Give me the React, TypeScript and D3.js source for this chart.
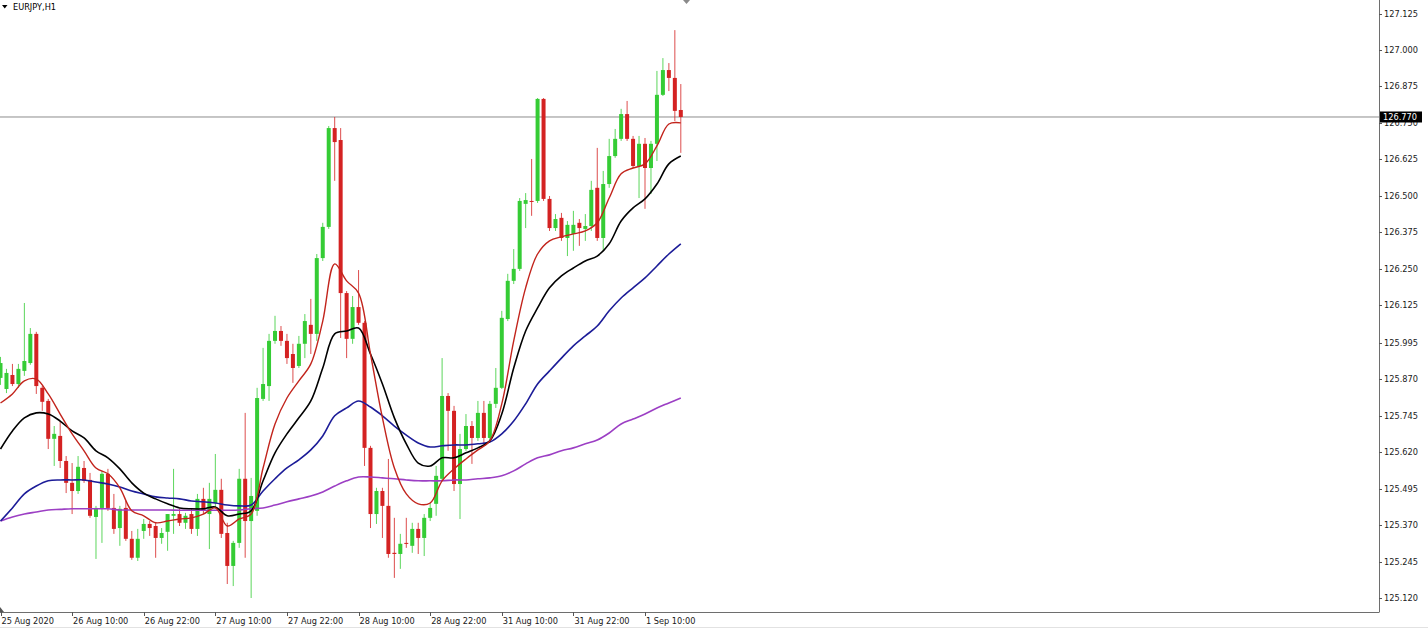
import React from 'react';
import * as d3 from 'd3';

// EURJPY H1 — hourly bars from 25 Aug 22:00 to 1 Sep 16:00
const opens = [125.875,125.837,125.885,125.854,125.899,125.926,126.026,125.841,125.796,125.666,125.676,125.590,125.515,125.487,125.566,125.525,125.398,125.429,125.546,125.429,125.360,125.429,125.323,125.258,125.350,125.374,125.367,125.326,125.347,125.402,125.408,125.378,125.408,125.357,125.460,125.408,125.446,125.491,125.343,125.230,125.309,125.529,125.384,125.419,125.803,125.847,126.002,126.036,126.002,125.957,125.916,125.992,126.057,126.026,126.286,126.393,126.732,126.691,126.166,126.009,126.118,126.064,125.635,125.408,125.487,125.436,125.275,125.271,125.309,125.299,125.357,125.326,125.395,125.443,125.529,125.813,125.762,125.511,125.631,125.710,125.669,125.755,125.669,125.786,125.841,126.077,126.208,126.249,126.472,126.482,126.482,126.832,126.489,126.389,126.424,126.355,126.369,126.407,126.386,126.396,126.527,126.355,126.540,126.636,126.695,126.780,126.695,126.602,126.678,126.595,126.678,126.846,126.931,126.904,126.794];
const highs = [125.947,125.906,125.923,125.923,126.132,126.046,126.033,125.847,125.803,125.710,125.727,125.607,125.583,125.607,125.590,125.549,125.436,125.556,125.563,125.477,125.436,125.453,125.350,125.357,125.391,125.384,125.378,125.360,125.408,125.563,125.426,125.412,125.426,125.477,125.498,125.515,125.614,125.529,125.378,125.316,125.563,125.755,125.532,125.841,125.978,126.026,126.088,126.053,126.026,125.992,126.019,126.094,126.146,126.300,126.407,126.739,126.770,126.732,126.173,126.156,126.245,126.070,125.642,125.498,125.498,125.597,125.395,125.340,125.395,125.378,125.378,125.408,125.446,125.573,125.943,125.823,125.779,125.683,125.751,125.727,125.796,125.796,125.796,125.909,126.105,126.232,126.317,126.492,126.509,126.626,126.835,126.835,126.499,126.437,126.441,126.413,126.448,126.420,126.437,126.551,126.664,126.585,126.695,126.729,126.798,126.825,126.705,126.705,126.698,126.688,126.928,126.972,126.955,127.068,126.883];
const lows = [125.851,125.823,125.847,125.841,125.882,125.920,125.820,125.762,125.631,125.573,125.566,125.480,125.408,125.477,125.515,125.395,125.254,125.309,125.419,125.340,125.299,125.316,125.251,125.247,125.323,125.333,125.258,125.306,125.282,125.340,125.367,125.357,125.340,125.333,125.408,125.288,125.426,125.326,125.168,125.161,125.292,125.258,125.120,125.402,125.796,125.796,125.992,125.985,125.923,125.858,125.909,125.943,125.957,126.002,126.276,126.386,126.551,126.012,125.943,125.992,126.057,125.573,125.360,125.374,125.326,125.258,125.189,125.220,125.292,125.275,125.271,125.264,125.384,125.402,125.522,125.625,125.487,125.391,125.625,125.580,125.659,125.652,125.659,125.772,125.837,126.070,126.197,126.242,126.389,126.431,126.475,126.482,126.379,126.379,126.345,126.293,126.311,126.328,126.345,126.379,126.345,126.311,126.527,126.630,126.688,126.688,126.595,126.492,126.455,126.506,126.619,126.842,126.859,126.756,126.647];
const closes = [125.926,125.892,125.854,125.906,125.933,126.026,125.847,125.793,125.666,125.683,125.590,125.515,125.487,125.570,125.522,125.402,125.429,125.546,125.429,125.357,125.426,125.323,125.258,125.323,125.374,125.360,125.326,125.343,125.408,125.408,125.378,125.402,125.357,125.460,125.419,125.460,125.491,125.340,125.230,125.309,125.529,125.384,125.470,125.806,125.854,126.002,126.036,126.002,125.943,125.909,125.992,126.070,126.026,126.286,126.393,126.732,126.684,126.166,126.009,126.118,126.064,125.635,125.408,125.487,125.436,125.271,125.271,125.306,125.306,125.357,125.326,125.395,125.429,125.539,125.813,125.762,125.511,125.631,125.710,125.669,125.755,125.669,125.786,125.841,126.081,126.208,126.249,126.482,126.485,126.479,126.832,126.489,126.389,126.420,126.355,126.400,126.400,126.389,126.396,126.520,126.355,126.540,126.636,126.695,126.780,126.695,126.602,126.678,126.595,126.678,126.846,126.931,126.904,126.791,126.770];

// Moving averages, one value every 2 bars (bar 0, 2, 4 … 114)
const MA_STEP = 2;
const maRed = [125.789,125.820,125.865,125.871,125.820,125.751,125.683,125.625,125.566,125.546,125.498,125.419,125.402,125.378,125.384,125.391,125.395,125.408,125.429,125.367,125.391,125.408,125.566,125.717,125.806,125.865,125.923,126.070,126.266,126.208,126.166,125.957,125.738,125.566,125.477,125.443,125.446,125.522,125.563,125.597,125.628,125.659,125.786,126.002,126.184,126.300,126.345,126.359,126.369,126.379,126.407,126.492,126.575,126.595,126.609,126.671,126.746,126.750];
const maBlack = [125.631,125.693,125.738,125.755,125.751,125.727,125.693,125.669,125.625,125.601,125.563,125.515,125.480,125.460,125.443,125.429,125.426,125.426,125.432,125.402,125.408,125.419,125.522,125.618,125.683,125.738,125.796,125.909,126.026,126.036,126.046,125.957,125.854,125.738,125.649,125.583,125.573,125.601,125.601,125.618,125.635,125.659,125.751,125.909,126.036,126.115,126.184,126.225,126.252,126.276,126.293,126.335,126.413,126.458,126.489,126.540,126.609,126.636];
const maBlue = [125.384,125.429,125.477,125.504,125.522,125.525,125.525,125.525,125.518,125.511,125.501,125.487,125.477,125.467,125.463,125.460,125.453,125.450,125.446,125.439,125.436,125.439,125.487,125.529,125.566,125.594,125.628,125.676,125.745,125.772,125.796,125.775,125.745,125.710,125.679,125.652,125.638,125.642,125.645,125.645,125.649,125.655,125.683,125.727,125.786,125.854,125.899,125.943,125.985,126.019,126.053,126.105,126.149,126.184,126.218,126.259,126.300,126.335];
const maPurple = [125.384,125.398,125.408,125.415,125.422,125.424,125.426,125.426,125.426,125.426,125.422,125.422,125.422,125.422,125.422,125.421,125.421,125.421,125.421,125.421,125.422,125.426,125.429,125.439,125.450,125.460,125.470,125.484,125.504,125.522,125.535,125.535,125.532,125.529,125.525,125.522,125.522,125.522,125.525,125.525,125.529,125.532,125.539,125.556,125.580,125.601,125.611,125.625,125.635,125.649,125.662,125.686,125.717,125.734,125.751,125.772,125.789,125.806];

const priceTicks = [127.125,127.000,126.875,126.750,126.625,126.500,126.375,126.250,126.125,125.995,125.870,125.745,125.620,125.495,125.370,125.245,125.120];
const timeTickIndex = [0,12,24,36,48,60,72,84,96,108];
const timeTickLabels = ['25 Aug 2020','26 Aug 10:00','26 Aug 22:00','27 Aug 10:00','27 Aug 22:00','28 Aug 10:00','28 Aug 22:00','31 Aug 10:00','31 Aug 22:00','1 Sep 10:00'];
const symbolTitle = 'EURJPY,H1';
const lastPrice = 126.770;

const W = 1428;
const H = 632;
const PLOT_R = 1379;
const PLOT_B = 612;
const FONT = '"DejaVu Sans", Tahoma, sans-serif';
const UP = '#35cc35';
const DOWN = '#d42222';

export default function App() {
  const x = d3.scaleLinear().domain([0, 108]).range([0.5, 645]);
  const y = d3.scaleLinear().domain([125.12, 127.125]).range([598, 13.5]);

  const maLine = d3
    .line<number>()
    .x((_, k) => x(k * MA_STEP))
    .y((d) => y(d))
    .curve(d3.curveCatmullRom.alpha(0.5));

  const bars = closes.map((c, i) => ({ o: opens[i], h: highs[i], l: lows[i], c, i }));
  const bodyW = 4;
  const lp = y(lastPrice);

  return (
    <svg
      width={W}
      height={H}
      style={{ position: 'absolute', left: 0, top: 0, background: '#fff' }}
      xmlns="http://www.w3.org/2000/svg"
    >
      <rect x={0} y={0} width={W} height={H} fill="#ffffff" />

      {/* current price line */}
      <line x1={0} x2={PLOT_R} y1={lp} y2={lp} stroke="#8c8c8c" strokeWidth={1} />

      {/* candles */}
      <g>
        {bars.map((b) => {
          const cx = x(b.i);
          const up = b.c >= b.o;
          const col = up ? UP : DOWN;
          const top = y(Math.max(b.o, b.c));
          const bot = y(Math.min(b.o, b.c));
          return (
            <g key={b.i}>
              <rect x={cx - 0.5} y={y(b.h)} width={1} height={Math.max(1, y(b.l) - y(b.h))} fill={col} opacity={0.8} />
              <rect x={cx - bodyW / 2} y={top} width={bodyW} height={Math.max(1, bot - top)} fill={col} />
            </g>
          );
        })}
      </g>

      {/* moving averages */}
      <path d={maLine(maPurple) || ''} fill="none" stroke="#9c3fc4" strokeWidth={1.6} />
      <path d={maLine(maBlue) || ''} fill="none" stroke="#1c1c98" strokeWidth={1.6} />
      <path d={maLine(maBlack) || ''} fill="none" stroke="#000000" strokeWidth={1.6} />
      <path d={maLine(maRed) || ''} fill="none" stroke="#c2241c" strokeWidth={1.4} />

      {/* frame */}
      <line x1={PLOT_R + 0.5} x2={PLOT_R + 0.5} y1={0} y2={PLOT_B} stroke="#6e6e6e" strokeWidth={1} />
      <line x1={0} x2={PLOT_R + 0.5} y1={PLOT_B + 0.5} y2={PLOT_B + 0.5} stroke="#6e6e6e" strokeWidth={1} />
      <line x1={0} x2={W} y1={627.5} y2={627.5} stroke="#e2e2e2" strokeWidth={1} />

      {/* price axis */}
      <g fontFamily={FONT} fontSize={8.2} fill="#1a1a1a">
        {priceTicks.map((p) => (
          <g key={p}>
            <line x1={PLOT_R} x2={PLOT_R + 3} y1={Math.round(y(p)) + 0.5} y2={Math.round(y(p)) + 0.5} stroke="#555" />
            <text x={PLOT_R + 5} y={y(p) + 3}>{p.toFixed(3)}</text>
          </g>
        ))}
      </g>

      {/* last price label */}
      <rect x={PLOT_R + 1} y={lp - 5.5} width={42} height={11} fill="#000" />
      <text x={PLOT_R + 4} y={lp + 3.5} fontFamily={FONT} fontSize={8.2} fill="#fff">
        {lastPrice.toFixed(3)}
      </text>

      {/* time axis */}
      <g fontFamily={FONT} fontSize={8.2} fill="#1a1a1a">
        {timeTickIndex.map((ti, k) => {
          const tx = Math.round(x(ti)) + 0.5;
          return (
            <g key={ti}>
              <line x1={tx} x2={tx} y1={PLOT_B} y2={PLOT_B + 4} stroke="#555" />
              <text x={x(ti) + 1} y={624}>{timeTickLabels[k]}</text>
            </g>
          );
        })}
      </g>
      <polygon points={`0,${PLOT_B} 4,${PLOT_B} 0,${PLOT_B - 5}`} fill="#555" />

      {/* shift marker */}
      <polygon points="683,0 690,0 686.5,4" fill="#8a8a8a" />

      {/* title */}
      <polygon points="2,5 7.5,5 4.75,8.5" fill="#000" />
      <text x={13} y={9.5} fontFamily={FONT} fontSize={8.2} fill="#000">
        {symbolTitle}
      </text>
    </svg>
  );
}
